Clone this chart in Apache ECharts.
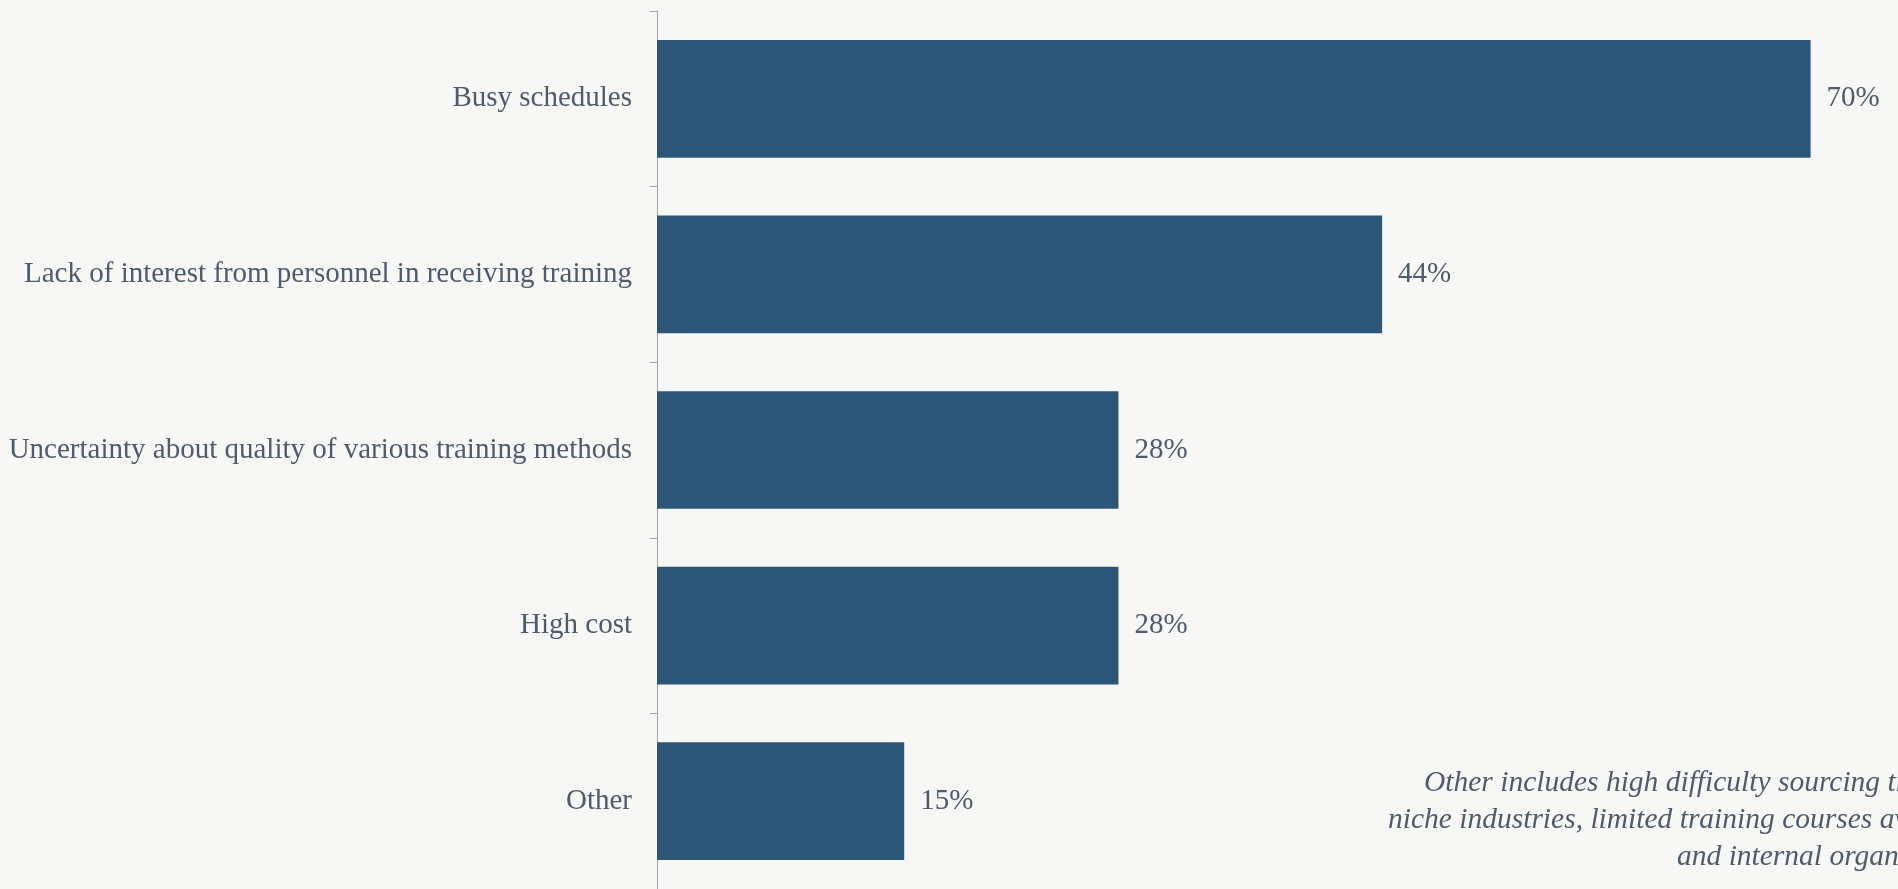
<!DOCTYPE html>
<html>
<head>
<meta charset="utf-8">
<script src="https://cdn.jsdelivr.net/npm/echarts@6/dist/echarts.min.js"></script>
<style>
html,body{margin:0;padding:0;background:#f7f7f5;}
#chart{width:1898px;height:889px;}
</style>
</head>
<body>
<div id="chart"></div>
<script>
const categories = [
  "Busy schedules",
  "Lack of interest from personnel in receiving training",
  "Uncertainty about quality of various training methods",
  "High cost",
  "Other"
];
const values = [70, 44, 28, 28, 15];
const noteLines = [
  "Other includes high difficulty sourcing trainers for",
  "niche industries, limited training courses available,",
  "and internal organizational issues."
];

const textColor = "#4f5b6b";
const serif = "'Liberation Serif', 'DejaVu Serif', serif";

const chart = echarts.init(document.getElementById('chart'));
chart.setOption({
  backgroundColor: "#f7f7f5",
  animation: false,
  grid: { left: 657, top: 11, height: 879, width: 1236 },
  xAxis: {
    type: 'value', min: 0, max: 75, show: false
  },
  yAxis: {
    type: 'category', data: categories, inverse: true,
    axisLine: { show: true, lineStyle: { color: '#9ea3ad', width: 1 } },
    axisTick: { show: true, length: 7, lineStyle: { color: '#9ea3ad' } },
    axisLabel: { margin: 25, color: textColor, fontFamily: serif, fontSize: 29 }
  },
  series: [{
    type: 'bar',
    data: values,
    barCategoryGap: '33%',
    itemStyle: { color: '#2c5677' },
    label: {
      show: true, position: 'right', distance: 16,
      formatter: '{c}%', color: textColor, fontFamily: serif, fontSize: 29
    }
  }],
  graphic: {
    type: 'group',
    children: noteLines.map((t, i) => ({
      type: 'text',
      left: [1424, 1388, 1677][i],
      top: 768 + i * 37,
      style: {
        text: t, fill: textColor, fontFamily: serif,
        fontStyle: 'italic', fontSize: 29.5
      }
    }))
  }
});
</script>
</body>
</html>
